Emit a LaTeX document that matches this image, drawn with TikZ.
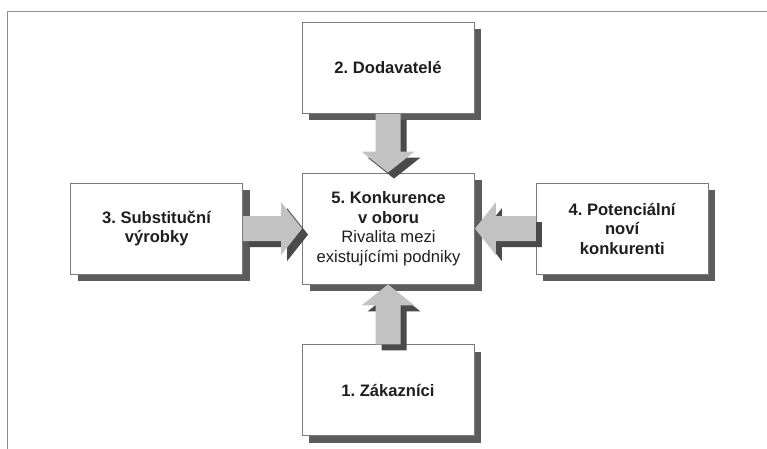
\documentclass[tikz,border=0pt]{standalone}
\usepackage{fontspec}
\setmainfont{Liberation Sans}
\usetikzlibrary{calc,shadows}
\frenchspacing
\definecolor{boxline}{HTML}{7A7A7A}
\definecolor{boxshadow}{HTML}{5C5C5C}
\definecolor{arrowfill}{HTML}{C2C2C2}
\definecolor{arrowshade}{HTML}{4A4A4A}
\definecolor{framegray}{HTML}{8C8C8C}
\definecolor{txt}{HTML}{1E1E1E}
\tikzset{
 box/.style={draw=boxline, line width=0.9pt, fill=white, minimum width=172pt,
   minimum height=91pt, inner sep=2pt, align=center, text=txt,
   font=\fontsize{16.6}{19.5}\selectfont\frenchspacing,
   drop shadow={shadow xshift=7pt, shadow yshift=-7pt, fill=boxshadow, opacity=1}},
 bigbox/.style={box, minimum height=111pt},
 arrbody/.style={fill=arrowfill},
 arrshade/.style={fill=arrowshade},
 frameline/.style={draw=framegray, line width=1.3pt},
}
\newcommand\blockarr[2]{%
 \coordinate (ts) at (#1);
 \coordinate (tt) at (#2);
 \coordinate (th) at ($(tt)!21pt!(ts)$);
 \coordinate (a1) at ($(ts)!12.5pt!90:(tt)$);
 \coordinate (a2) at ($(th)!12.5pt!90:(tt)$);
 \coordinate (a3) at ($(th)!26.5pt!90:(tt)$);
 \coordinate (a4) at ($(th)!26.5pt!-90:(tt)$);
 \coordinate (a5) at ($(th)!12.5pt!-90:(tt)$);
 \coordinate (a6) at ($(ts)!12.5pt!-90:(tt)$);
 \fill[arrshade] ($(a1)+(6pt,-6pt)$) -- ($(a2)+(6pt,-6pt)$) -- ($(a3)+(6pt,-6pt)$)
   -- ($(tt)+(6pt,-6pt)$) -- ($(a4)+(6pt,-6pt)$) -- ($(a5)+(6pt,-6pt)$)
   -- ($(a6)+(6pt,-6pt)$) -- cycle;
 \fill[arrbody] (a1) -- (a2) -- (a3) -- (tt) -- (a4) -- (a5) -- (a6) -- cycle;
}
\begin{document}
\begin{tikzpicture}[x=1pt,y=-1pt]
\useasboundingbox (0,0) rectangle (767,448);
\draw[frameline] (7.5,449) -- (7.5,11.5) -- (768,11.5);
\node[box] (b2) at (388,67.8) {\textbf{2. Dodavatelé}};
\node[bigbox] (b5) at (388.5,228.5) {\textbf{5. Konkurence}\\\textbf{v oboru}\\Rivalita mezi\\existujícími podniky};
\node[box] (b3) at (156.7,228.6) {\textbf{3. Substituční}\\\textbf{výrobky}};
\node[box] (b4) at (622.3,228.6) {\textbf{4. Potenciální}\\\textbf{noví}\\\textbf{konkurenti}};
\node[box] (b1) at (388,390.3) {\textbf{1. Zákazníci}};
\blockarr{b2.south}{b2.south |- b5.north}
\blockarr{b3.east}{b3.east -| b5.west}
\blockarr{b4.west}{b4.west -| b5.east}
\blockarr{b1.north}{b1.north |- b5.south}
\end{tikzpicture}
\end{document}
